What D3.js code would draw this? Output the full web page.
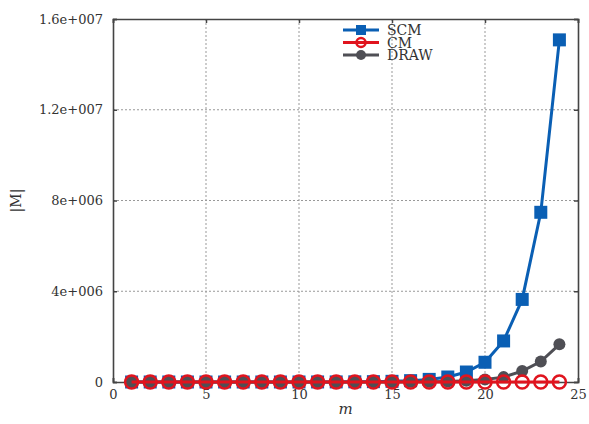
<!DOCTYPE html>
<html>
<head>
<meta charset="utf-8">
<script src="https://cdn.jsdelivr.net/npm/d3@7"></script>
<style>
  html, body { margin: 0; padding: 0; background: #fff; }
  svg text { font-family: "DejaVu Serif", "Liberation Serif", serif; fill: #333; }
</style>
</head>
<body>
<svg id="chart" width="589" height="424"></svg>
<script>
// Problem size m
const mValues = [1,2,3,4,5,6,7,8,9,10,11,12,13,14,15,16,17,18,19,20,21,22,23,24];

// |M| per method
const scm = [2,4,7,14,29,58,115,230,461,922,1843,3686,7373,14746,29491,58982,115000,220000,440000,870000,1810000,3640000,7480000,15080000];
const cm = [0,0,0,0,0,0,0,0,0,0,0,0,0,0,0,0,0,0,0,0,0,0,0,0];
const draw = [0,0,1,2,3,6,13,26,52,104,208,416,832,1664,3328,6656,13300,27000,54000,108000,215000,480000,900000,1660000];

const xTicks = [0, 5, 10, 15, 20, 25];
const yTicks = [0, 4e6, 8e6, 1.2e7, 1.6e7];
const yTickLabels = ["0", "4e+006", "8e+006", "1.2e+007", "1.6e+007"];
const seriesNames = ["SCM", "CM", "DRAW"];

const svg = d3.select("#chart");
const plotLeft = 113, plotRight = 578, plotTop = 19, plotBottom = 382;

const x = d3.scaleLinear().domain([0, 25]).range([plotLeft, plotRight]);
const y = d3.scaleLinear().domain([0, 1.6e7]).range([plotBottom, plotTop]);

// grid
const grid = svg.append("g").attr("stroke", "#999").attr("stroke-width", 1).attr("stroke-dasharray", "2,2");
xTicks.slice(1, -1).forEach(t => {
  grid.append("line").attr("x1", x(t)).attr("x2", x(t)).attr("y1", plotTop).attr("y2", plotBottom);
});
yTicks.slice(1, -1).forEach(t => {
  grid.append("line").attr("x1", plotLeft).attr("x2", plotRight).attr("y1", y(t)).attr("y2", y(t));
});

// axes with inward ticks
const axisColor = "#444";
const xAxis = svg.append("g").attr("transform", `translate(0,${plotBottom})`)
  .call(d3.axisBottom(x).tickValues(xTicks).tickSize(-4).tickPadding(8).tickFormat(d3.format("d")));
const xAxisTop = svg.append("g").attr("transform", `translate(0,${plotTop})`)
  .call(d3.axisTop(x).tickValues(xTicks).tickSize(-4).tickFormat(""));
const yAxis = svg.append("g").attr("transform", `translate(${plotLeft},0)`)
  .call(d3.axisLeft(y).tickValues(yTicks).tickSize(-4).tickPadding(10).tickFormat((d, i) => yTickLabels[i]));
const yAxisRight = svg.append("g").attr("transform", `translate(${plotRight},0)`)
  .call(d3.axisRight(y).tickValues(yTicks).tickSize(-4).tickFormat(""));
[xAxis, xAxisTop, yAxis, yAxisRight].forEach(g => {
  g.select(".domain").attr("stroke", axisColor).attr("stroke-width", 1.6);
  g.selectAll(".tick line").attr("stroke", axisColor).attr("stroke-width", 1.5);
  g.selectAll("text").attr("font-family", "DejaVu Serif, serif").attr("font-size", 13).attr("fill", "#333");
});

// axis titles
svg.append("text").attr("x", (plotLeft + plotRight) / 2).attr("y", 414).attr("text-anchor", "middle")
  .attr("font-size", 15).attr("font-style", "italic").text("m");
svg.append("text").attr("transform", `translate(21,${(plotTop + plotBottom) / 2}) rotate(-90)`)
  .attr("text-anchor", "middle").attr("font-size", 14).text("|M|");

const line = d3.line().x((d, i) => x(mValues[i])).y(d => y(d));
const plot = svg.append("g");

const blue = "#0a5fb4", red = "#e0141e", gray = "#4f4f55";

// SCM
plot.append("path").datum(scm).attr("d", line).attr("fill", "none").attr("stroke", blue).attr("stroke-width", 3);
plot.selectAll(".scm").data(scm).join("rect")
  .attr("x", (d, i) => x(mValues[i]) - 6.5).attr("y", d => y(d) - 6.5)
  .attr("width", 13).attr("height", 13).attr("fill", blue);

// DRAW
plot.append("path").datum(draw).attr("d", line).attr("fill", "none").attr("stroke", gray).attr("stroke-width", 3);
plot.selectAll(".draw").data(draw).join("circle")
  .attr("cx", (d, i) => x(mValues[i])).attr("cy", d => y(d)).attr("r", 6).attr("fill", gray);

// CM
plot.append("path").datum(cm).attr("d", line).attr("fill", "none").attr("stroke", red).attr("stroke-width", 3);
plot.selectAll(".cm").data(cm).join("circle")
  .attr("cx", (d, i) => x(mValues[i])).attr("cy", d => y(d)).attr("r", 6.5)
  .attr("fill", "none").attr("stroke", red).attr("stroke-width", 2.5);

// legend
const legend = svg.append("g");
const lx0 = 343, lx1 = 379, ly0 = 30, ldy = 12.5;
const colors = [blue, red, gray];
seriesNames.forEach((name, i) => {
  const yy = ly0 + i * ldy;
  const mid = (lx0 + lx1) / 2;
  legend.append("line").attr("x1", lx0).attr("x2", lx1).attr("y1", yy).attr("y2", yy)
    .attr("stroke", colors[i]).attr("stroke-width", 3);
  if (i === 0) {
    legend.append("rect").attr("x", mid - 5).attr("y", yy - 5).attr("width", 10).attr("height", 10).attr("fill", blue);
  } else if (i === 1) {
    legend.append("circle").attr("cx", mid).attr("cy", yy).attr("r", 4.5).attr("fill", "none").attr("stroke", red).attr("stroke-width", 2.5);
  } else {
    legend.append("circle").attr("cx", mid).attr("cy", yy).attr("r", 5).attr("fill", gray);
  }
  legend.append("text").attr("x", 387).attr("y", yy + 5).attr("font-size", 14).text(name);
});
</script>
</body>
</html>
